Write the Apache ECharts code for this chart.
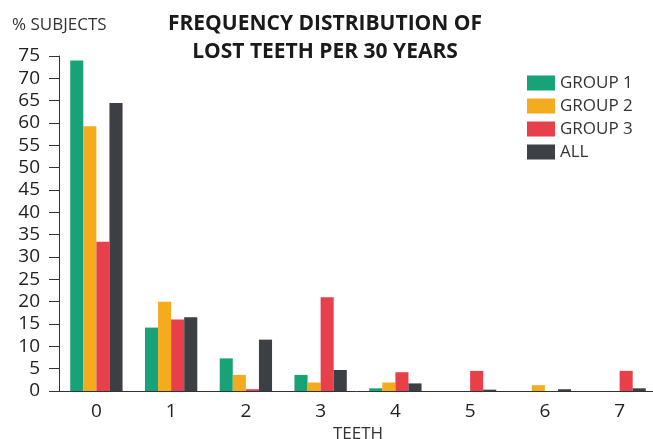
<!DOCTYPE html>
<html>
<head>
<meta charset="UTF-8">
<title>Lost teeth</title>
<script type="text/javascript" src="https://cdn.jsdelivr.net/npm/echarts@6/dist/echarts.min.js"></script>
<style>
  body{margin:0;background:#fff}
</style>
</head>
<body>
<div id="main" style="width:653px;height:439px"></div>
<script type="text/javascript">
// teeth lost per 30 years
var teeth = ['0', '1', '2', '3', '4', '5', '6', '7'];
// % of subjects
var group1 = [74, 14.2, 7.3, 3.6, 0.6, 0, 0, 0];
var group2 = [59.3, 20, 3.6, 1.9, 1.9, 0, 1.3, 0];
var group3 = [33.4, 16, 0.4, 21, 4.2, 4.5, 0, 4.5];
var all = [64.5, 16.5, 11.5, 4.7, 1.7, 0.3, 0.4, 0.6];
var yTicks = [0, 75, 5];

var myChart = echarts.init(document.getElementById('main'));

function bar(name, data, color) {
    return {
        name: name,
        type: 'bar',
        data: data,
        barGap: '0%',
        barCategoryGap: '30%',
        itemStyle: {color: color}
    };
}

var option = {
    animation: false,
    title: {
        text: 'FREQUENCY DISTRIBUTION OF\nLOST TEETH PER 30 YEARS',
        left: 320,
        top: 5,
        textAlign: 'center',
        textStyle: {
            fontFamily: 'Open Sans',
            fontWeight: 'bold',
            fontSize: 21,
            lineHeight: 28,
            color: '#1a1a1a'
        }
    },
    graphic: [{
        type: 'text',
        left: 12,
        top: 17,
        style: {text: '% SUBJECTS', font: '17px "Open Sans"', fill: '#333'}
    }],
    legend: {
        orient: 'vertical',
        left: 522,
        top: 69,
        itemWidth: 28,
        itemHeight: 15,
        itemGap: 5,
        icon: 'rect',
        textStyle: {fontFamily: 'Open Sans', fontSize: 17, lineHeight: 18, color: '#333'},
        data: ['GROUP 1', 'GROUP 2', 'GROUP 3', 'ALL']
    },
    grid: {left: 59, right: -4, top: 56, bottom: 48, outerBoundsMode: 'none'},
    xAxis: {
        type: 'category',
        data: teeth,
        name: 'TEETH',
        nameLocation: 'middle',
        nameGap: 29,
        nameTextStyle: {fontFamily: 'Open Sans', fontSize: 17, color: '#333'},
        axisLine: {lineStyle: {color: '#333', width: 1}},
        axisTick: {length: 9, lineStyle: {color: '#333'}},
        axisLabel: {fontFamily: 'Open Sans', fontSize: 19, color: '#222', margin: 11}
    },
    yAxis: {
        type: 'value',
        min: yTicks[0],
        max: yTicks[1],
        interval: yTicks[2],
        axisLine: {show: true, lineStyle: {color: '#333', width: 1}},
        axisTick: {show: true, length: 10, lineStyle: {color: '#333'}},
        splitLine: {show: false},
        axisLabel: {fontFamily: 'Open Sans', fontSize: 19, color: '#222', margin: 19}
    },
    series: [
        bar('GROUP 1', group1, '#17a377'),
        bar('GROUP 2', group2, '#f5ab1e'),
        bar('GROUP 3', group3, '#e8404b'),
        bar('ALL', all, '#3c3f44')
    ]
};
myChart.setOption(option);
</script>
</body>
</html>
